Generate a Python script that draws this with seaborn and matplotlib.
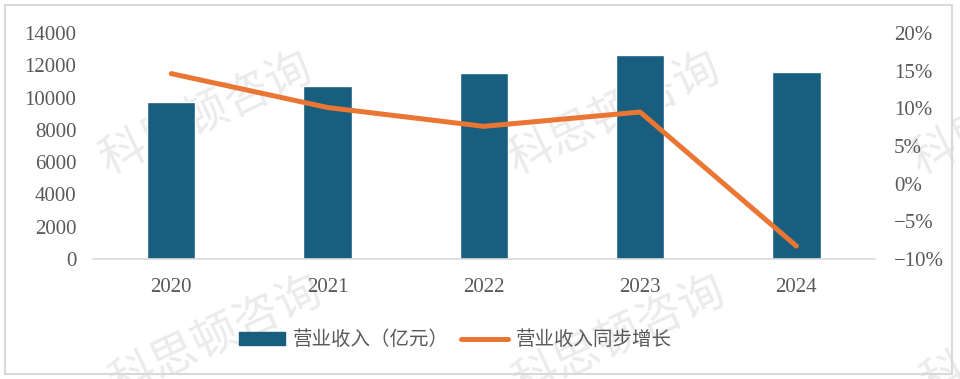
import matplotlib as mpl
import matplotlib.pyplot as plt
import numpy as np
import pandas as pd
import seaborn as sns
from matplotlib.lines import Line2D
from matplotlib.patches import Patch, Rectangle

mpl.use("Agg")

years = ["2020", "2021", "2022", "2023", "2024"]
revenue = [9720, 10700, 11550, 12620, 11600]  # 亿元
growth = [0.146, 0.101, 0.076, 0.095, -0.083]

left_ticks = [0, 2000, 4000, 6000, 8000, 10000, 12000, 14000]
right_ticks = [-0.10, -0.05, 0.0, 0.05, 0.10, 0.15, 0.20]
right_labels = ["\u221210%", "\u22125%", "0%", "5%", "10%", "15%", "20%"]

bar_label = "营业收入（亿元）"
line_label = "营业收入同步增长"
watermark = "科思顿咨询"

BAR_C = "#175E7F"
LINE_C = "#EB7532"
TXT_C = "#595959"
GRID_C = "#D9D9D9"

sns.set_style("white")
plt.rcParams["font.family"] = ["Noto Sans CJK SC", "DejaVu Sans"]

df = pd.DataFrame({"year": years, "revenue": revenue, "growth": growth})

fig = plt.figure(figsize=(9.6, 3.79), dpi=100)
ax = fig.add_axes([0.097, 0.317, 0.814, 0.596])
ax.patch.set_alpha(0)

sns.barplot(data=df, x="year", y="revenue", color=BAR_C, width=0.31,
            saturation=1, ax=ax)
ax.set_xlim(-0.5, len(years) - 0.5)
ax.set_ylim(0, 14000)
ax.set_yticks(left_ticks)
ax.set_yticklabels([str(t) for t in left_ticks])
ax.set_xlabel("")
ax.set_ylabel("")
for s in ["top", "right", "left"]:
    ax.spines[s].set_visible(False)
ax.spines["bottom"].set_color(GRID_C)
ax.spines["bottom"].set_linewidth(1.2)
ax.tick_params(axis="y", length=0, pad=12, labelsize=15, labelcolor=TXT_C)
ax.tick_params(axis="x", length=0, pad=14, labelsize=15, labelcolor=TXT_C)
for lab in ax.get_xticklabels() + ax.get_yticklabels():
    lab.set_family("Liberation Serif")

ax2 = ax.twinx()
sns.lineplot(x=np.arange(len(years)), y=df["growth"], color=LINE_C, lw=3.6,
             sort=False, ax=ax2, solid_capstyle="round", solid_joinstyle="round")
ax2.set_ylim(-0.10, 0.20)
ax2.set_yticks(right_ticks)
ax2.set_yticklabels(right_labels)
ax2.set_ylabel("")
for s in ["top", "right", "left", "bottom"]:
    ax2.spines[s].set_visible(False)
ax2.tick_params(axis="y", length=0, pad=14, labelsize=15, labelcolor=TXT_C)
for lab in ax2.get_yticklabels():
    lab.set_family("Liberation Serif")

handles = [Patch(facecolor=BAR_C, edgecolor=BAR_C),
           Line2D([0], [0], color=LINE_C, lw=3.6, solid_capstyle="round")]
leg = fig.legend(handles, [bar_label, line_label], loc="center",
                 bbox_to_anchor=(0.474, 0.103), ncol=2, frameon=False,
                 fontsize=14, handlelength=2.4, handleheight=0.6,
                 handletextpad=0.4, columnspacing=0.6)
for t in leg.get_texts():
    t.set_color(TXT_C)

# watermark, behind the plot
for (x, y) in [(0.215, 0.70), (0.64, 0.70), (1.06, 0.70),
               (0.225, 0.11), (0.645, 0.11), (1.07, 0.11)]:
    fig.text(x, y, watermark, rotation=25, fontsize=33, color="#EBEBEB",
             ha="center", va="center", zorder=-1)

fig.patches.append(Rectangle((5 / 960, 5 / 379), 947 / 960, 369 / 379,
                             transform=fig.transFigure, fill=False,
                             edgecolor=GRID_C, lw=1.5))

fig.savefig("out.png", dpi=100)
